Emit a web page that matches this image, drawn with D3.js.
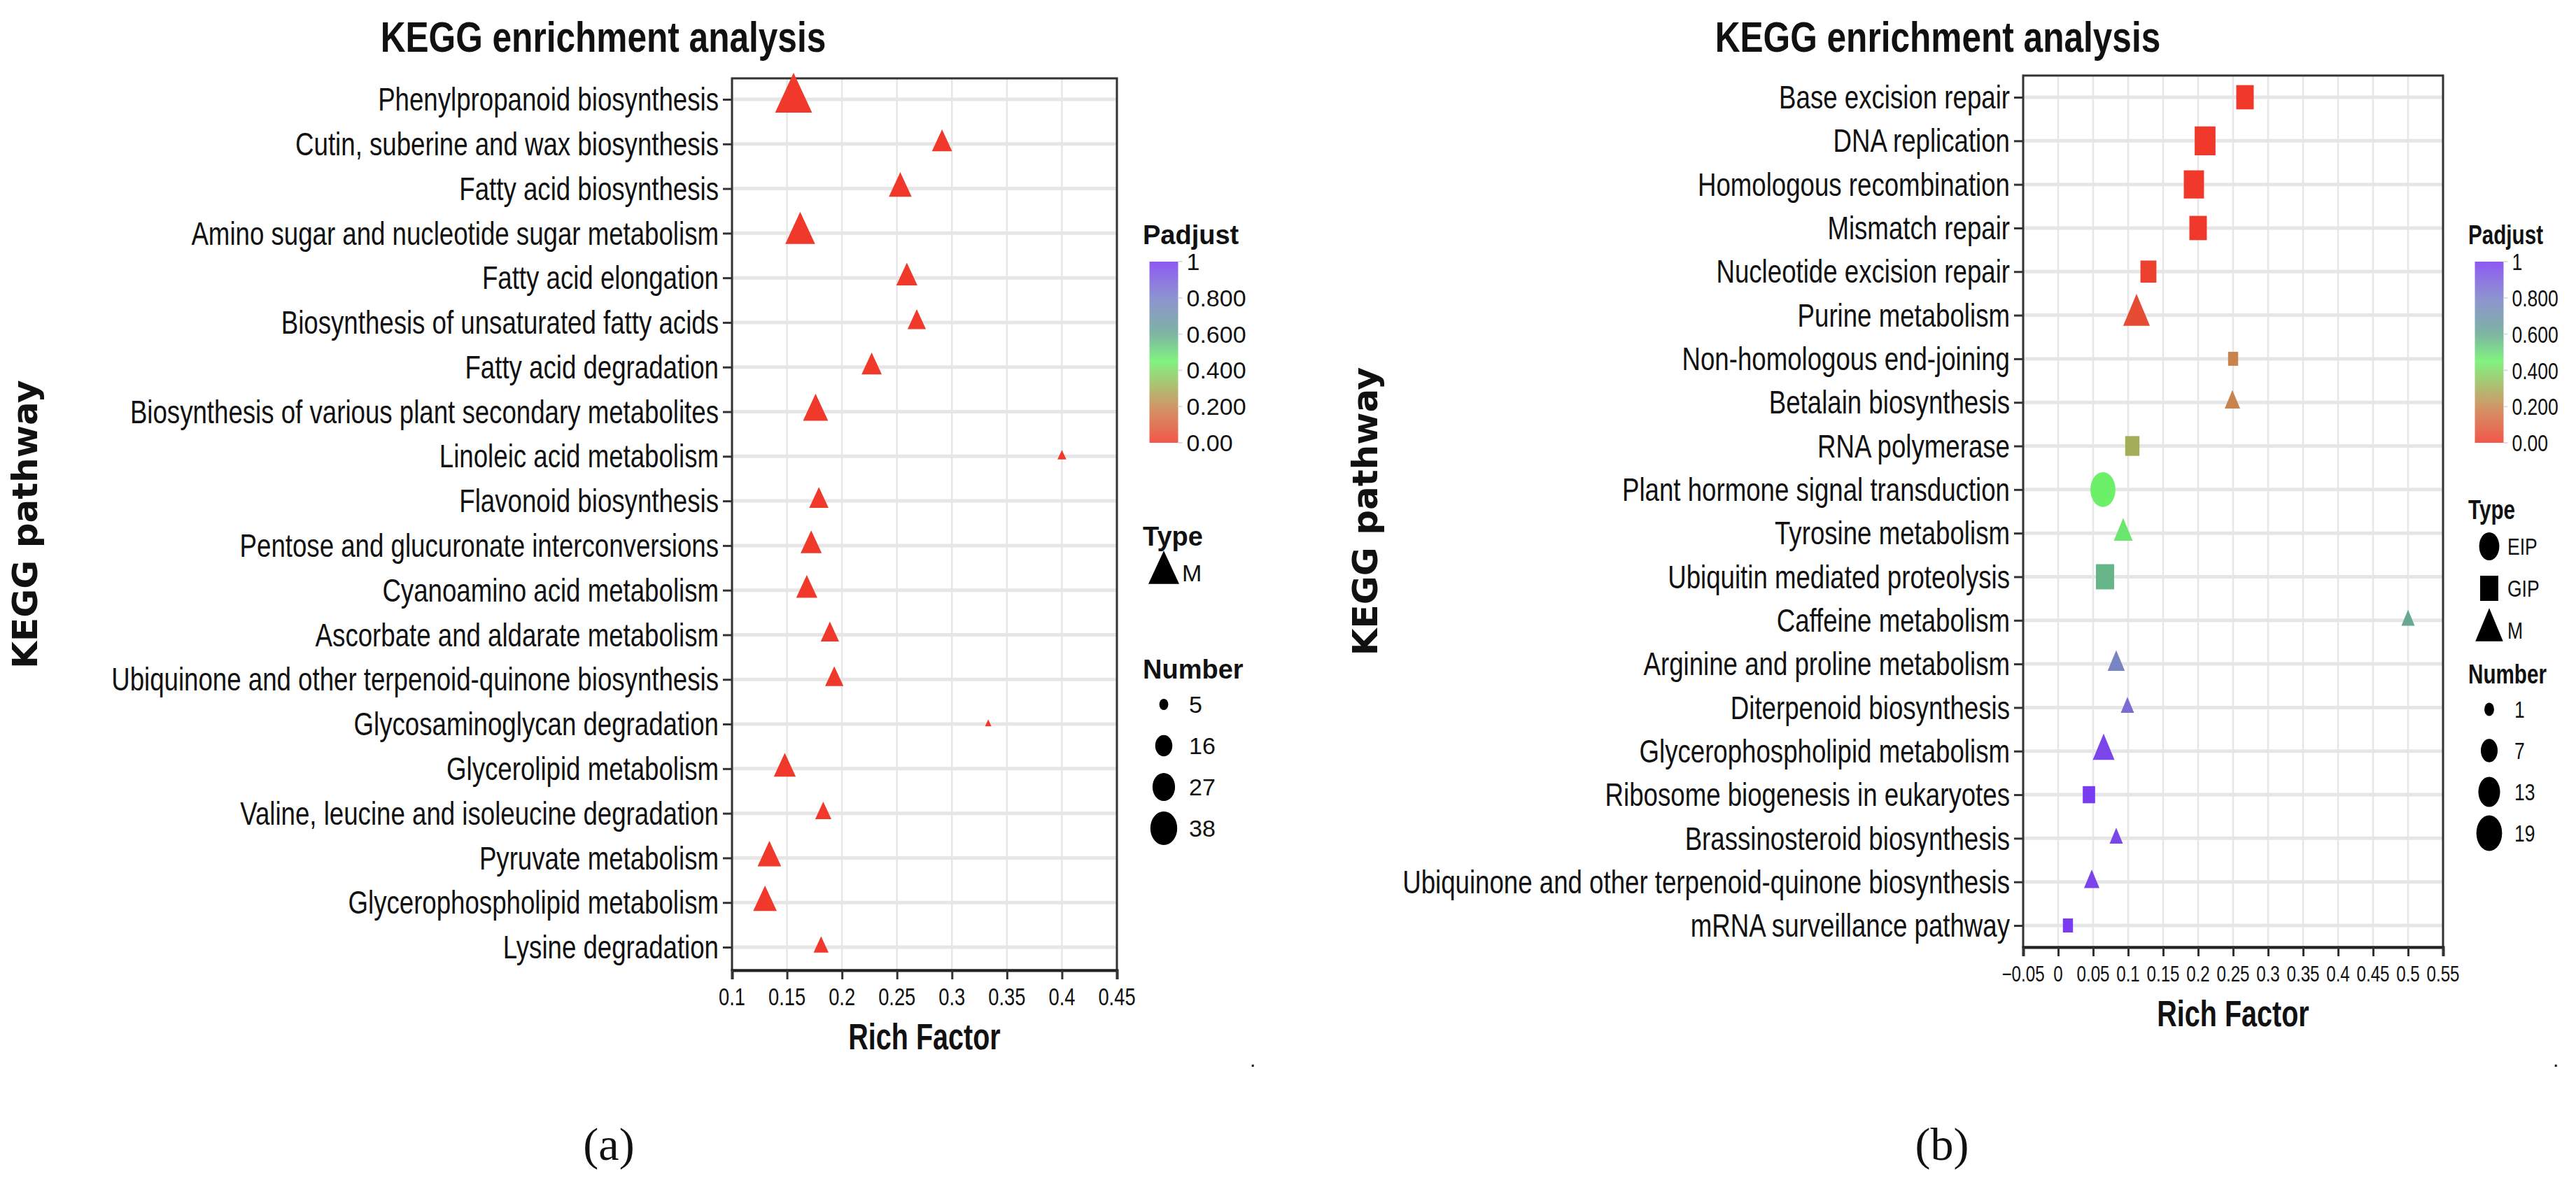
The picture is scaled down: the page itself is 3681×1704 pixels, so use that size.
<!DOCTYPE html>
<html>
<head>
<meta charset="utf-8">
<script src="https://cdn.jsdelivr.net/npm/d3@7"></script>
<style>
  body { margin: 0; background: #fff; }
  text { font-family: "Liberation Sans", Arial, sans-serif; fill: #111; }
</style>
</head>
<body>
<svg id="chart" width="3681" height="1704"></svg>
<script>
// ---- panel (a) data ----
var pathwaysA = ["Phenylpropanoid biosynthesis", "Cutin, suberine and wax biosynthesis", "Fatty acid biosynthesis",
  "Amino sugar and nucleotide sugar metabolism", "Fatty acid elongation", "Biosynthesis of unsaturated fatty acids",
  "Fatty acid degradation", "Biosynthesis of various plant secondary metabolites", "Linoleic acid metabolism",
  "Flavonoid biosynthesis", "Pentose and glucuronate interconversions", "Cyanoamino acid metabolism",
  "Ascorbate and aldarate metabolism", "Ubiquinone and other terpenoid-quinone biosynthesis",
  "Glycosaminoglycan degradation", "Glycerolipid metabolism", "Valine, leucine and isoleucine degradation",
  "Pyruvate metabolism", "Glycerophospholipid metabolism", "Lysine degradation"];
var richA = [0.156, 0.291, 0.253, 0.162, 0.259, 0.268, 0.227, 0.176, 0.40, 0.179, 0.172, 0.168, 0.189, 0.193, 0.333, 0.148, 0.183, 0.134, 0.130, 0.181];
var numberA = [38, 12, 15, 25, 13, 10, 12, 18, 3, 11, 13, 13, 10, 10, 2, 14, 8, 16, 16, 7];
var padjA = [0, 0, 0, 0, 0, 0, 0, 0, 0, 0, 0, 0, 0, 0, 0, 0, 0, 0, 0, 0];
var typeA = ["M", "M", "M", "M", "M", "M", "M", "M", "M", "M", "M", "M", "M", "M", "M", "M", "M", "M", "M", "M"];
var ticksA = [0.1, 0.15, 0.2, 0.25, 0.3, 0.35, 0.4, 0.45];
var typeLegendA = ["M"];
var numberLegendA = [5, 16, 27, 38];

// ---- panel (b) data ----
var pathwaysB = ["Base excision repair", "DNA replication", "Homologous recombination", "Mismatch repair",
  "Nucleotide excision repair", "Purine metabolism", "Non-homologous end-joining", "Betalain biosynthesis",
  "RNA polymerase", "Plant hormone signal transduction", "Tyrosine metabolism", "Ubiquitin mediated proteolysis",
  "Caffeine metabolism", "Arginine and proline metabolism", "Diterpenoid biosynthesis",
  "Glycerophospholipid metabolism", "Ribosome biogenesis in eukaryotes", "Brassinosteroid biosynthesis",
  "Ubiquinone and other terpenoid-quinone biosynthesis", "mRNA surveillance pathway"];
var richB = [0.267, 0.21, 0.194, 0.20, 0.129, 0.112, 0.25, 0.249, 0.106, 0.064, 0.093, 0.067, 0.50, 0.083, 0.099, 0.065, 0.044, 0.083, 0.048, 0.014];
var numberB = [10, 15, 14, 10, 8, 10, 2, 2, 6, 18, 4, 11, 1, 3, 1, 6, 4, 1, 2, 2];
var padjB = [0, 0, 0, 0, 0.02, 0.05, 0.2, 0.2, 0.3, 0.45, 0.47, 0.57, 0.6, 0.78, 0.86, 0.97, 1, 0.97, 0.98, 1];
var typeB = ["GIP", "GIP", "GIP", "GIP", "GIP", "M", "GIP", "M", "GIP", "EIP", "M", "GIP", "M", "M", "M", "M", "GIP", "M", "M", "GIP"];
var ticksB = [-0.05, 0, 0.05, 0.1, 0.15, 0.2, 0.25, 0.3, 0.35, 0.4, 0.45, 0.5, 0.55];
var typeLegendB = ["EIP", "GIP", "M"];
var numberLegendB = [1, 7, 13, 19];

var padjTicks = [0, 0.2, 0.4, 0.6, 0.8, 1];
var padjTickLabels = ["0.00", "0.200", "0.400", "0.600", "0.800", "1"];

var svg = d3.select("#chart");
var color = d3.scaleLinear()
  .domain([0, 0.2, 0.45, 0.6, 0.8, 1])
  .range(["#f0392b", "#c8844c", "#6cf06a", "#66a892", "#7a80c8", "#7a3cf0"]);

function symbolPath(shape, h, asp) {
  if (shape == "EIP") {
    var rx = h / 2 * asp, ry = h / 2;
    return "M" + (-rx) + ",0A" + rx + "," + ry + " 0 1,0 " + rx + ",0A" + rx + "," + ry + " 0 1,0 " + (-rx) + ",0Z";
  }
  if (shape == "GIP") {
    var s = 0.9 * h, w = s * asp;
    return "M" + (-w / 2) + "," + (-s / 2) + "h" + w + "v" + s + "h" + (-w) + "Z";
  }
  var ht = 1.19 * h, tw = 1.155 * ht * asp;
  return "M0," + (-2 * ht / 3) + "L" + (tw / 2) + "," + (ht / 3) + "L" + (-tw / 2) + "," + (ht / 3) + "Z";
}

function condensed(g, x, y, str, size, anchor, weight, sx) {
  return g.append("text")
    .attr("transform", "translate(" + x + "," + y + ") scale(" + sx + ",1)")
    .attr("text-anchor", anchor)
    .attr("dominant-baseline", "central")
    .style("font-size", size + "px")
    .style("font-weight", weight)
    .text(str);
}

function drawPanel(p) {
  var g = svg.append("g");
  var x = d3.scaleLinear().domain(p.domain).range([p.left, p.right]);
  var y = d3.scalePoint().domain(p.pathways).range([p.firstRow, p.lastRow]);
  var area = d3.scaleLinear().domain([0, 1]).range([p.sizeA, p.sizeA + p.sizeB]);
  var size = function(n) { return Math.sqrt(Math.max(40, area(n))); };

  // grid
  g.selectAll(".vg").data(p.ticks).enter().append("line")
    .attr("x1", d => x(d)).attr("x2", d => x(d))
    .attr("y1", p.top).attr("y2", p.bottom)
    .attr("stroke", "#e6e6e6").attr("stroke-width", 2.5);
  g.selectAll(".hg").data(p.pathways).enter().append("line")
    .attr("x1", p.left).attr("x2", p.right)
    .attr("y1", d => y(d)).attr("y2", d => y(d))
    .attr("stroke", "#e6e6e6").attr("stroke-width", 5);
  g.append("rect")
    .attr("x", p.left).attr("y", p.top)
    .attr("width", p.right - p.left).attr("height", p.bottom - p.top)
    .attr("fill", "none").attr("stroke", "#333").attr("stroke-width", 3);

  // axes
  var xAxis = g.append("g").attr("transform", "translate(0," + p.bottom + ")")
    .call(d3.axisBottom(x).tickValues(p.ticks).tickSize(13).tickFormat(""));
  xAxis.select(".domain").attr("stroke", "#222").attr("stroke-width", 4);
  xAxis.selectAll(".tick line").attr("stroke", "#333").attr("stroke-width", 3);
  p.ticks.forEach(function(t) {
    condensed(g, x(t), p.bottom + 38, d3.format("")(+t.toFixed(2)), p.tickFont, "middle", "normal", 0.78);
  });
  var yAxis = g.append("g").attr("transform", "translate(" + p.left + ",0)")
    .call(d3.axisLeft(y).tickSize(13).tickFormat(""));
  yAxis.select(".domain").remove();
  yAxis.selectAll(".tick line").attr("stroke", "#333").attr("stroke-width", 3);
  p.pathways.forEach(function(d) {
    condensed(g, p.left - 19, y(d), d, 47, "end", "normal", 0.78);
  });

  // points
  g.selectAll(".pt").data(p.pathways).enter().append("path")
    .attr("transform", (d, i) => "translate(" + x(p.rich[i]) + "," + y(d) + ")")
    .attr("d", (d, i) => symbolPath(p.type[i], size(p.number[i]), p.asp))
    .attr("fill", (d, i) => color(p.padj[i]));

  // titles
  condensed(g, p.titleX, 52, "KEGG enrichment analysis", 62, "middle", "bold", 0.8);
  condensed(g, (p.left + p.right) / 2, p.bottom + 95, "Rich Factor", 52, "middle", "bold", 0.76);
  g.append("text")
    .attr("transform", "translate(" + p.ylabX + "," + (p.top + p.bottom) / 2 + ") rotate(-90)")
    .attr("text-anchor", "middle").attr("dominant-baseline", "central")
    .style("font-family", "'DejaVu Sans', sans-serif")
    .style("font-size", "50px").style("font-weight", "bold")
    .text("KEGG pathway");
  g.append("text")
    .attr("x", p.captionX).attr("y", 1635)
    .attr("text-anchor", "middle").attr("dominant-baseline", "central")
    .style("font-family", "'Liberation Serif', 'DejaVu Serif', serif")
    .style("font-size", "66px")
    .text(p.caption);
  g.append("text").attr("x", p.dotX).attr("y", 1525)
    .style("font-size", "30px").text(".");

  // legends
  var L = p.legend, lx = L.sym, sx = L.sx;
  condensed(g, L.title, 336, "Padjust", 38, "start", "bold", sx);
  var gradId = "grad" + p.caption.replace(/\W/g, "");
  var grad = svg.append("defs").append("linearGradient").attr("id", gradId)
    .attr("x1", 0).attr("y1", 1).attr("x2", 0).attr("y2", 0);
  d3.range(0, 1.001, 0.05).forEach(function(t) {
    grad.append("stop").attr("offset", t).attr("stop-color", color(t));
  });
  var barTop = 374, barBottom = 633, barW = 41;
  var cy = d3.scaleLinear().domain([0, 1]).range([barBottom, barTop]);
  g.append("rect").attr("x", lx - barW / 2).attr("y", barTop)
    .attr("width", barW).attr("height", barBottom - barTop)
    .attr("fill", "url(#" + gradId + ")").attr("opacity", 0.85);
  padjTicks.forEach(function(t, i) {
    g.append("line").attr("x1", lx + barW / 2).attr("x2", lx + barW / 2 + 6)
      .attr("y1", cy(t)).attr("y2", cy(t)).attr("stroke", "#ddd").attr("stroke-width", 2);
    condensed(g, lx + barW / 2 + 12, cy(t), padjTickLabels[i], 34, "start", "normal", sx);
  });
  condensed(g, L.title, L.typeY, "Type", 38, "start", "bold", sx);
  p.typeLegend.forEach(function(t, i) {
    var yy = L.typeY + 52 + i * 60;
    g.append("path").attr("transform", "translate(" + lx + "," + yy + ")")
      .attr("d", symbolPath(t, 40, p.asp)).attr("fill", "#000");
    condensed(g, lx + 26, yy, t, 34, "start", "normal", sx);
  });
  condensed(g, L.title, L.numY, "Number", 38, "start", "bold", sx);
  p.numberLegend.forEach(function(n, i) {
    var yy = L.numY + 50 + i * 59;
    g.append("path").attr("transform", "translate(" + lx + "," + yy + ")")
      .attr("d", symbolPath("EIP", size(n), p.asp)).attr("fill", "#000");
    condensed(g, lx + 36, yy, n, 34, "start", "normal", sx);
  });
}

drawPanel({
  pathways: pathwaysA, rich: richA, number: numberA, padj: padjA, type: typeA,
  ticks: ticksA, domain: [0.1, 0.45], left: 1046, right: 1596, top: 112, bottom: 1387,
  firstRow: 142, lastRow: 1354, asp: 0.8, sizeA: -54, sizeB: 62, tickFont: 35,
  titleX: 862, ylabX: 36, caption: "(a)", captionX: 870, dotX: 1786,
  typeLegend: typeLegendA, numberLegend: numberLegendA,
  legend: { title: 1633, sym: 1663, sx: 1, typeY: 767, numY: 957 }
});

drawPanel({
  pathways: pathwaysB, rich: richB, number: numberB, padj: padjB, type: typeB,
  ticks: ticksB, domain: [-0.05, 0.55], left: 2891, right: 3491, top: 108, bottom: 1354,
  firstRow: 139, lastRow: 1323, asp: 0.72, sizeA: 245, sizeB: 124, tickFont: 31,
  titleX: 2769, ylabX: 1951, caption: "(b)", captionX: 2775, dotX: 3648,
  typeLegend: typeLegendB, numberLegend: numberLegendB,
  legend: { title: 3527, sym: 3557, sx: 0.78, typeY: 729, numY: 964 }
});
</script>
</body>
</html>
